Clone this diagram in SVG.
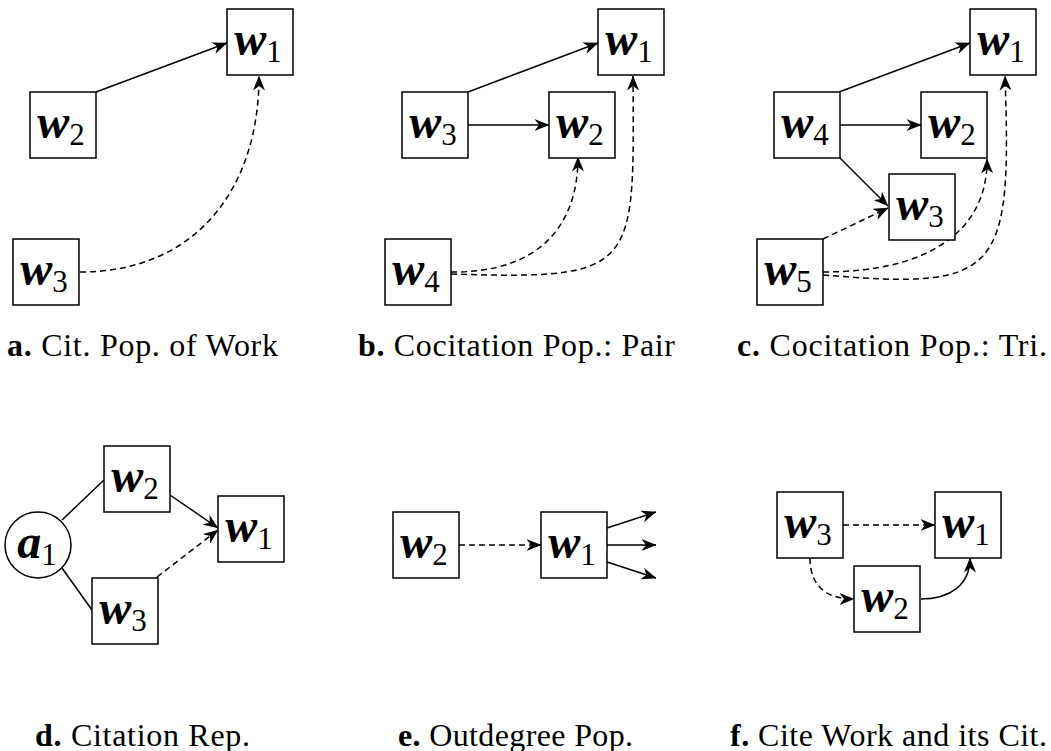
<svg xmlns="http://www.w3.org/2000/svg" width="1051" height="751" viewBox="0 0 1051 751">
<style>
.box{fill:#fff;stroke:#000;stroke-width:1.5}
.lbl{font-family:"Liberation Serif","Times New Roman",Times,"Noto Serif","DejaVu Serif",serif;font-size:48px;font-style:italic;font-weight:bold;text-anchor:middle;fill:#000}
.sub{font-size:31px;font-style:normal;font-weight:normal}
.e{fill:none;stroke:#000;stroke-width:1.5}
.d{stroke-dasharray:6 4}
.a{marker-end:url(#ah)}
.cap{font-family:"Liberation Serif","Times New Roman",Times,"Noto Serif","DejaVu Serif",serif;font-size:32px;fill:#000}
.cap .b{font-weight:bold}
</style>
<defs>
<marker id="ah" viewBox="0 0 15 12" refX="14.5" refY="6" markerWidth="15" markerHeight="12" orient="auto" markerUnits="userSpaceOnUse">
<path d="M0,0 L15,6 L0,12 L4.5,6 Z" fill="#000"/>
</marker>
</defs>
<rect width="1051" height="751" fill="#fff"/>

<g id="connectors">
<path class="e a" d="M96,92 L227,43"/>
<path class="e d a" d="M80,272 C195,272 259,190 259,76"/>
<path class="e a" d="M468,92 L598,43"/>
<path class="e a" d="M468,125 L549,125"/>
<path class="e d a" d="M451,272 C540,273 578,225 578,157"/>
<path class="e d a" d="M451,274 C640,280 634,270 633,76"/>
<path class="e a" d="M839,92 L970,43"/>
<path class="e a" d="M839,125 L921,125"/>
<path class="e a" d="M839,157 L888,206"/>
<path class="e d a" d="M823,239 L888,208"/>
<path class="e d a" d="M823,272 C930,272 988,230 987,159"/>
<path class="e d a" d="M823,275 C1000,290 1012,275 1005,76"/>
<path class="e" d="M62,520 L104,480"/>
<path class="e" d="M62,568 L92,610"/>
<path class="e a" d="M170,495 L218,528"/>
<path class="e d a" d="M157,577 L218,530"/>
<path class="e d a" d="M459,545 L541,545"/>
<path class="e a" d="M607,528 L656,512"/>
<path class="e a" d="M607,545 L656,545"/>
<path class="e a" d="M607,562 L656,578"/>
<path class="e d a" d="M843,525 L935,525"/>
<path class="e d a" d="M810,558 C810,585 825,599 854,599"/>
<path class="e a" d="M921,599 C950,599 970,585 970,558"/>
</g>

<g id="a-w1"><rect class="box" x="227" y="9" width="66" height="66"/><text class="lbl" x="258" y="55">w<tspan class="sub" dy="7">1</tspan></text></g>
<g id="a-w2"><rect class="box" x="30" y="92" width="66" height="66"/><text class="lbl" x="61" y="138">w<tspan class="sub" dy="7">2</tspan></text></g>
<g id="a-w3"><rect class="box" x="13" y="239" width="66" height="66"/><text class="lbl" x="44" y="285">w<tspan class="sub" dy="7">3</tspan></text></g>

<g id="b-w1"><rect class="box" x="598" y="9" width="66" height="66"/><text class="lbl" x="629" y="55">w<tspan class="sub" dy="7">1</tspan></text></g>
<g id="b-w2"><rect class="box" x="549" y="92" width="66" height="66"/><text class="lbl" x="580" y="138">w<tspan class="sub" dy="7">2</tspan></text></g>
<g id="b-w3"><rect class="box" x="402" y="92" width="66" height="66"/><text class="lbl" x="433" y="138">w<tspan class="sub" dy="7">3</tspan></text></g>
<g id="b-w4"><rect class="box" x="385" y="239" width="66" height="66"/><text class="lbl" x="416" y="285">w<tspan class="sub" dy="7">4</tspan></text></g>

<g id="c-w1"><rect class="box" x="970" y="9" width="66" height="66"/><text class="lbl" x="1001" y="55">w<tspan class="sub" dy="7">1</tspan></text></g>
<g id="c-w2"><rect class="box" x="921" y="92" width="66" height="66"/><text class="lbl" x="952" y="138">w<tspan class="sub" dy="7">2</tspan></text></g>
<g id="c-w3"><rect class="box" x="889" y="174" width="66" height="66"/><text class="lbl" x="920" y="220">w<tspan class="sub" dy="7">3</tspan></text></g>
<g id="c-w4"><rect class="box" x="774" y="92" width="66" height="66"/><text class="lbl" x="805" y="138">w<tspan class="sub" dy="7">4</tspan></text></g>
<g id="c-w5"><rect class="box" x="757" y="239" width="66" height="66"/><text class="lbl" x="788" y="285">w<tspan class="sub" dy="7">5</tspan></text></g>

<g id="d-a1"><circle class="box" cx="38" cy="545" r="33"/><text class="lbl" x="37" y="558">a<tspan class="sub" dy="7">1</tspan></text></g>
<g id="d-w2"><rect class="box" x="104" y="446" width="66" height="66"/><text class="lbl" x="135" y="492">w<tspan class="sub" dy="7">2</tspan></text></g>
<g id="d-w3"><rect class="box" x="92" y="578" width="66" height="66"/><text class="lbl" x="123" y="624">w<tspan class="sub" dy="7">3</tspan></text></g>
<g id="d-w1"><rect class="box" x="218" y="496" width="66" height="66"/><text class="lbl" x="249" y="542">w<tspan class="sub" dy="7">1</tspan></text></g>

<g id="e-w2"><rect class="box" x="393" y="512" width="66" height="66"/><text class="lbl" x="424" y="558">w<tspan class="sub" dy="7">2</tspan></text></g>
<g id="e-w1"><rect class="box" x="541" y="512" width="66" height="66"/><text class="lbl" x="572" y="558">w<tspan class="sub" dy="7">1</tspan></text></g>

<g id="f-w3"><rect class="box" x="777" y="492" width="66" height="66"/><text class="lbl" x="808" y="538">w<tspan class="sub" dy="7">3</tspan></text></g>
<g id="f-w1"><rect class="box" x="935" y="492" width="66" height="66"/><text class="lbl" x="966" y="538">w<tspan class="sub" dy="7">1</tspan></text></g>
<g id="f-w2"><rect class="box" x="854" y="566" width="66" height="66"/><text class="lbl" x="885" y="612">w<tspan class="sub" dy="7">2</tspan></text></g>

<g id="captions">
<text class="cap" x="7" y="356" textLength="271" lengthAdjust="spacing"><tspan class="b">a.</tspan> Cit. Pop. of Work</text>
<text class="cap" x="358" y="356" textLength="317" lengthAdjust="spacing"><tspan class="b">b.</tspan> Cocitation Pop.: Pair</text>
<text class="cap" x="737" y="356" textLength="310" lengthAdjust="spacing"><tspan class="b">c.</tspan> Cocitation Pop.: Tri.</text>
<text class="cap" x="35" y="746" textLength="215" lengthAdjust="spacing"><tspan class="b">d.</tspan> Citation Rep.</text>
<text class="cap" x="398" y="746" textLength="235" lengthAdjust="spacing"><tspan class="b">e.</tspan> Outdegree Pop.</text>
<text class="cap" x="730" y="746" textLength="317" lengthAdjust="spacing"><tspan class="b">f.</tspan> Cite Work and its Cit.</text>
</g>
</svg>
